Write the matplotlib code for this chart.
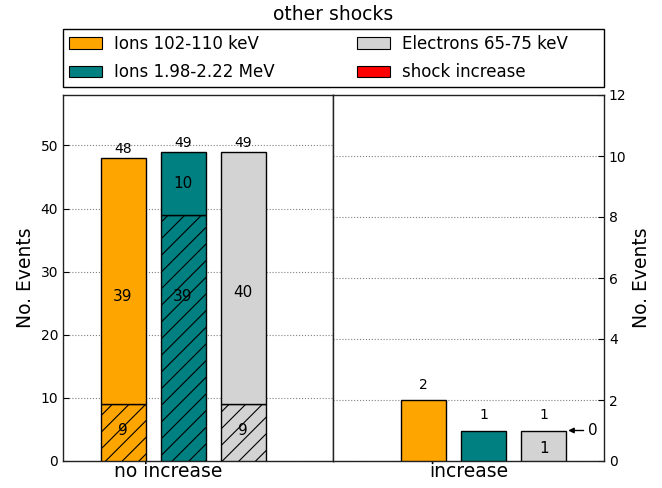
import matplotlib
matplotlib.use("Agg")
import matplotlib.pyplot as plt
from matplotlib.patches import Patch, Rectangle
import numpy as np

plt.rcParams['font.family'] = ['DejaVu Sans']
plt.rcParams['hatch.color'] = 'black'
plt.rcParams['hatch.linewidth'] = 0.8

title = "other shocks"
series = ["Ions 102-110 keV", "Ions 1.98-2.22 MeV", "Electrons 65-75 keV", "shock increase"]
colors = ["#FFA500", "#008080", "#D3D3D3", "#FF0000"]
groups = ["no increase", "increase"]

# left panel ("no increase"): hatched (lower) and plain (upper) segments
noinc_hatched = [9, 39, 9]
noinc_plain = [39, 10, 40]
noinc_total = [48, 49, 49]
# right panel ("increase")
inc_values = [2, 1, 1]
inc_shock = 0   # red category, annotated

fig = plt.figure(figsize=(6.62, 4.88), dpi=100)
fig.patch.set_facecolor('white')
W, H = 662, 488
def rect(x0, y0, x1, y1):
    return [x0 / W, 1 - y1 / H, (x1 - x0) / W, (y1 - y0) / H]

axL = fig.add_axes(rect(63, 95, 333, 461))
axR = fig.add_axes(rect(333, 95, 604, 461))

width = 0.75
xL = np.array([1.0, 2.0, 3.0])
xR = xL + 0.5

for i in range(3):
    axL.bar(xL[i], noinc_hatched[i], width, color=colors[i], edgecolor='black',
            linewidth=1, hatch='//', zorder=3)
    axL.bar(xL[i], noinc_plain[i], width, bottom=noinc_hatched[i], color=colors[i],
            edgecolor='black', linewidth=1, zorder=3)
    axL.annotate(str(noinc_total[i]), (xL[i], noinc_total[i]), xytext=(0, 1.5),
                 textcoords='offset points', ha='center', va='bottom', fontsize=10, zorder=5)

# inner labels
in_fs = 11
axL.text(xL[0], noinc_hatched[0] / 2 + 0.4, str(noinc_hatched[0]), ha='center', va='center', fontsize=in_fs, zorder=5)
axL.text(xL[0], noinc_plain[0] * 2 / 3, str(noinc_plain[0]), ha='center', va='center', fontsize=in_fs, zorder=5)
axL.text(xL[1], noinc_hatched[1] + noinc_plain[1] / 2, str(noinc_plain[1]), ha='center', va='center', fontsize=in_fs, zorder=5)
axL.text(xL[1], noinc_hatched[1] * 2 / 3, str(noinc_hatched[1]), ha='center', va='center', fontsize=in_fs, zorder=5)
axL.text(xL[2], noinc_hatched[2] / 2 + 0.4, str(noinc_hatched[2]), ha='center', va='center', fontsize=in_fs, zorder=5)
axL.text(xL[2], noinc_plain[2] * 2 / 3, str(noinc_plain[2]), ha='center', va='center', fontsize=in_fs, zorder=5)

for i in range(3):
    axR.bar(xR[i], inc_values[i], width, color=colors[i], edgecolor='black', linewidth=1, zorder=3)
    axR.annotate(str(inc_values[i]), (xR[i], inc_values[i]), xytext=(0, 6),
                 textcoords='offset points', ha='center', va='bottom', fontsize=10, zorder=5)
axR.text(xR[2], inc_values[2] * 0.4, str(inc_values[2]), ha='center', va='center', fontsize=in_fs, zorder=5)
axR.annotate(str(inc_shock), xy=(xR[2] + width / 2 + 0.03, inc_values[2]),
             xytext=(4.23, inc_values[2]), ha='left', va='center', fontsize=11,
             arrowprops=dict(arrowstyle='-|>', color='black', lw=1, mutation_scale=8, shrinkA=1, shrinkB=0),
             zorder=5)

axL.set_xlim(0, 4.5)
axR.set_xlim(0, 4.5)
axL.set_ylim(0, 58)
axR.set_ylim(0, 12)

axL.set_yticks(np.arange(0, 51, 10))
axR.set_yticks(np.arange(0, 13, 2))
axR.yaxis.tick_right()
axR.yaxis.set_label_position('right')

for ax in (axL, axR):
    ax.tick_params(direction='in', length=4, width=0.8, labelsize=10, top=False)
    ax.yaxis.grid(True, linestyle=':', color='gray', linewidth=0.8, zorder=0)
    ax.set_axisbelow(True)
    for s in ax.spines.values():
        s.set_linewidth(1)
        s.set_color('#222222')
axL.tick_params(axis='y', right=False)
axR.tick_params(axis='y', left=False, right=True)

axL.set_xticks([xL[1] - 0.25])
axL.set_xticklabels([groups[0]])
axR.set_xticks([xR[1] - 0.25])
axR.set_xticklabels([groups[1]])
for ax in (axL, axR):
    ax.tick_params(axis='x', labelsize=13.5, pad=1)

axL.set_ylabel("No. Events", fontsize=13.5)
axR.set_ylabel("No. Events", fontsize=13.5)

fig.text(333 / W, 1 - 15 / H, title, ha='center', va='center', fontsize=13.5)

# legend frame
fig.patches.append(Rectangle((63 / W, 1 - 87 / H), (604 - 63) / W, 58 / H,
                             transform=fig.transFigure, facecolor='white',
                             edgecolor='black', linewidth=1, zorder=1))

handles = [Patch(facecolor=c, edgecolor='black', linewidth=0.8) for c in colors]
leg = fig.legend(handles, series,
                 loc='center left', bbox_to_anchor=(63 / W, 1 - 58.3 / H),
                 ncol=2, fontsize=12, frameon=False, handlelength=2.0,
                 handleheight=0.7, borderpad=0.36, labelspacing=0.62, handletextpad=0.72,
                 columnspacing=4.9, borderaxespad=0.0)
leg.set_zorder(2)

fig.savefig("out.png", dpi=100, facecolor='white')
